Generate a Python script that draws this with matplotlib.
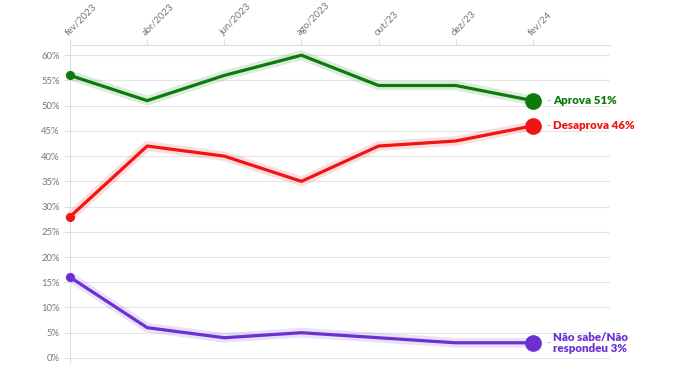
import matplotlib.pyplot as plt

# Survey dates and approval series (percent)
meses = ['fev/2023', 'abr/2023', 'jun/2023', 'ago/2023', 'out/23', 'dez/23', 'fev/24']
aprova = [56, 51, 56, 60, 54, 54, 51]
desaprova = [28, 42, 40, 35, 42, 43, 46]
nao_sabe = [16, 6, 4, 5, 4, 3, 3]

series = [
    (aprova, '#0c7a0c', 'Aprova 51%'),
    (desaprova, '#f01414', 'Desaprova 46%'),
    (nao_sabe, '#6a30d2', 'Não sabe/Não\nrespondeu 3%'),
]

plt.rcParams['font.family'] = ['Lato', 'DejaVu Sans']

fig = plt.figure(figsize=(6.8, 3.7), dpi=100)
ax = fig.add_axes([0.103, 0.019, 0.794, 0.859])

x = list(range(len(meses)))
for values, color, label in series:
    # soft glow behind the line
    ax.plot(x, values, color=color, linewidth=7, alpha=0.14, solid_capstyle='round', zorder=2, clip_on=False)
    ax.plot(x, values, color=color, linewidth=2.3, solid_capstyle='round', zorder=3, clip_on=False)
    ax.plot(x[0], values[0], 'o', color=color, markersize=5.5, zorder=4, clip_on=False)
    ax.plot(x[-1], values[-1], 'o', color=color, markersize=11, zorder=4, clip_on=False)
    ax.text(x[-1] + 0.18, values[-1], '-', color='#aaaaaa', fontsize=8, va='center', ha='left')
    ax.text(x[-1] + 0.26, values[-1], label, color=color, fontsize=8.3, fontweight='heavy',
            va='center', ha='left', linespacing=0.95)

ax.set_xlim(0, 7)
ax.set_ylim(-1, 62)
ax.set_yticks(range(0, 61, 5))
ax.set_yticklabels([f'{v}%' for v in range(0, 61, 5)])
ax.set_xticks(x)
ax.set_xticklabels(meses, rotation=45, ha='left', va='bottom', rotation_mode='anchor')
ax.xaxis.tick_top()

ax.grid(axis='y', color='#e6e6e6', linewidth=0.8)
ax.set_axisbelow(True)
for side in ['right', 'bottom']:
    ax.spines[side].set_visible(False)
for side in ['top', 'left']:
    ax.spines[side].set_color('#dddddd')
ax.tick_params(axis='x', colors='#dddddd', labelcolor='#777777', labelsize=7, length=4, pad=2)
ax.tick_params(axis='y', colors='#dddddd', labelcolor='#777777', labelsize=6.8, length=4)

fig.savefig('out.png', dpi=100)
